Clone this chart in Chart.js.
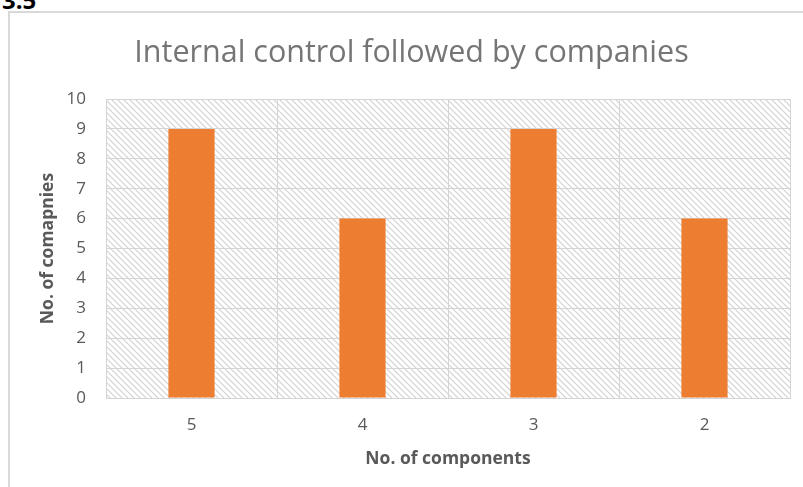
<!DOCTYPE html>
<html>
<head>
<meta charset="utf-8">
<script src="https://cdn.jsdelivr.net/npm/chart.js@4/dist/chart.umd.min.js"></script>
<style>
  html, body { margin: 0; padding: 0; background: #fff; overflow: hidden; }
  #wrap { position: relative; width: 803px; height: 487px; }
  #heading { position: absolute; left: 2px; top: -17px; font: bold 24px "Open Sans", sans-serif; color: #000; }
  #frame { position: absolute; left: 8px; top: 11px; width: 900px; height: 600px;
           border-left: 2px solid #d9d9d9; border-top: 2px solid #d9d9d9; }
  #c { position: absolute; left: 0; top: 0; }
</style>
</head>
<body>
<div id="wrap">
  <div id="heading">3.5</div>
  <div id="frame"></div>
  <canvas id="c" width="803" height="487"></canvas>
</div>
<script>
// Number of components vs. number of companies following them
const categories = ['5', '4', '3', '2'];
const companies = [9, 6, 9, 6];
const yTicks = [0, 1, 2, 3, 4, 5, 6, 7, 8, 9, 10];

const TEXT = '#595959';
const GRID = '#d4d4d4';

// diagonal hatch used to fill the plot area
function makeHatch() {
  const t = document.createElement('canvas');
  t.width = 6; t.height = 6;
  const g = t.getContext('2d');
  g.fillStyle = '#ffffff';
  g.fillRect(0, 0, 6, 6);
  g.strokeStyle = '#d2d2d2';
  g.lineWidth = 1.2;
  g.beginPath();
  g.moveTo(-1, -1); g.lineTo(7, 7);
  g.moveTo(-1, 5); g.lineTo(1, 7);
  g.moveTo(5, -1); g.lineTo(7, 1);
  g.stroke();
  return g.createPattern(t, 'repeat');
}

const hatchBackground = {
  id: 'hatchBackground',
  beforeDraw(chart) {
    const { ctx, chartArea: a } = chart;
    ctx.save();
    ctx.fillStyle = makeHatch();
    ctx.fillRect(a.left, a.top, a.right - a.left, a.bottom - a.top);
    ctx.restore();
  }
};

new Chart(document.getElementById('c'), {
  type: 'bar',
  data: {
    labels: categories,
    datasets: [{
      data: companies,
      backgroundColor: '#ED7D31',
      borderWidth: 0,
      barPercentage: 0.27,
      categoryPercentage: 1
    }]
  },
  options: {
    responsive: false,
    animation: false,
    layout: { padding: { left: 33, right: 13, top: 0, bottom: 0 } },
    plugins: {
      legend: { display: false },
      tooltip: { enabled: false },
      title: {
        display: true,
        text: 'Internal control followed by companies',
        color: '#757575',
        font: { family: 'Open Sans', size: 30.5, weight: 'normal', lineHeight: 1.2 },
        padding: { top: 35, bottom: 27.4 }
      }
    },
    scales: {
      x: {
        grid: { color: GRID, lineWidth: 1, drawTicks: false, offset: true },
        border: { color: GRID, width: 1 },
        ticks: { color: TEXT, font: { family: 'Open Sans', size: 17 }, padding: 17 },
        title: {
          display: true,
          text: 'No. of components',
          color: TEXT,
          font: { family: 'Open Sans', size: 17.5, weight: 'bold' },
          padding: { top: 8, bottom: 17 }
        },
        afterFit(s) { s.height = 89; }
      },
      y: {
        min: 0, max: 10,
        afterBuildTicks(s) { s.ticks = yTicks.map(v => ({ value: v })); },
        grid: { color: GRID, lineWidth: 1, drawTicks: false },
        border: { color: GRID, width: 1 },
        ticks: { color: TEXT, font: { family: 'Open Sans', size: 17 }, padding: 20 },
        title: {
          display: true,
          text: 'No. of comapnies',
          color: TEXT,
          font: { family: 'Open Sans', size: 17.5, weight: 'bold' },
          padding: { top: 4.5, bottom: 0 }
        },
        afterFit(s) { s.width = 73; }
      }
    }
  },
  plugins: [hatchBackground]
});
</script>
</body>
</html>
